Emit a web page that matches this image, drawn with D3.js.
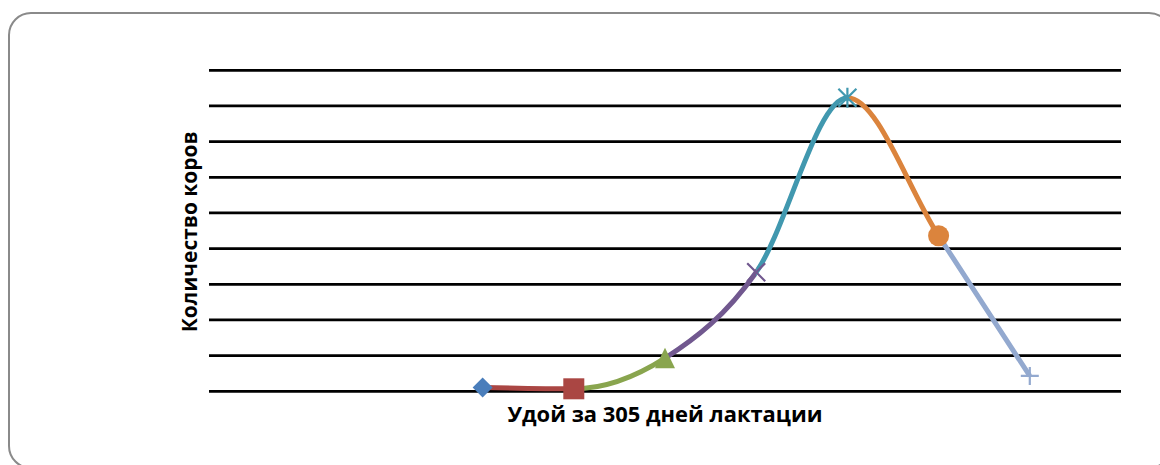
<!DOCTYPE html>
<html>
<head>
<meta charset="utf-8">
<script src="https://cdn.jsdelivr.net/npm/d3@7"></script>
<style>
  html, body { margin: 0; padding: 0; background: #ffffff; }
  svg { display: block; }
</style>
</head>
<body>
<svg id="chart" width="1160" height="465"></svg>
<script>
// Milk yield classes (category slots along the x axis)
const categories = ["1", "2", "3", "4", "5", "6", "7", "8", "9", "10", "11"];
// Each point: category slot and number of cows
const pointCategory = ["4", "5", "6", "7", "8", "9", "10"];
const pointValue = [1.1, 0.7, 9.3, 33.4, 82.3, 43.6, 4.3];
// Value axis gridlines
const gridValues = [0, 10, 20, 30, 40, 50, 60, 70, 80, 90];

const xTitle = "Удой за 305 дней лактации";
const yTitle = "Количество коров";

// Series styling (one colour / marker per point, segment takes the colour of its end point)
const seriesColor = ["#4A7EBB", "#AA4643", "#89A54E", "#71588F", "#4198AF", "#DB843D", "#93A9CF"];
const seriesSymbol = ["diamond", "square", "triangle", "x", "star", "circle", "plus"];

const svg = d3.select("#chart");
const plot = { left: 209, right: 1121, top: 70.3, bottom: 391.3 };

// Outer chart frame with rounded corners
svg.append("rect")
  .attr("x", 9).attr("y", 13)
  .attr("width", 1162).attr("height", 455)
  .attr("rx", 22).attr("ry", 22)
  .attr("fill", "#ffffff")
  .attr("stroke", "#8a8a8a")
  .attr("stroke-width", 2);

const x = d3.scalePoint().domain(categories).range([plot.left, plot.right]);
const y = d3.scaleLinear().domain([0, 90]).range([plot.bottom, plot.top]);

// Horizontal gridlines
svg.append("g").selectAll("line")
  .data(gridValues)
  .join("line")
  .attr("x1", plot.left).attr("x2", plot.right)
  .attr("y1", d => y(d)).attr("y2", d => y(d))
  .attr("stroke", "#000000")
  .attr("stroke-width", 2.8);

const pts = pointCategory.map((c, i) => ({ x: x(c), y: y(pointValue[i]), i }));

// One smooth curve through all points, coloured piecewise with clip strips
const line = d3.line().x(d => d.x).y(d => d.y).curve(d3.curveMonotoneX);
const pathD = line(pts);
const defs = svg.append("defs");
const curveG = svg.append("g");
for (let i = 1; i < pts.length; i++) {
  const id = "seg" + i;
  defs.append("clipPath").attr("id", id)
    .append("rect")
    .attr("x", pts[i - 1].x).attr("y", 0)
    .attr("width", pts[i].x - pts[i - 1].x + (i === pts.length - 1 ? 10 : 0.5))
    .attr("height", 465);
  curveG.append("path")
    .attr("d", pathD)
    .attr("fill", "none")
    .attr("stroke", seriesColor[i])
    .attr("stroke-width", 5)
    .attr("stroke-linecap", "butt")
    .attr("clip-path", `url(#${id})`);
}

// Markers
const markerG = svg.append("g");
pts.forEach((p, i) => {
  const c = seriesColor[i];
  const g = markerG.append("g").attr("transform", `translate(${p.x},${p.y})`);
  switch (seriesSymbol[i]) {
    case "diamond":
      g.append("path").attr("d", "M0,-10L10,0L0,10L-10,0Z").attr("fill", c);
      break;
    case "square":
      g.append("rect").attr("x", -10.5).attr("y", -10.5).attr("width", 21).attr("height", 21).attr("fill", c);
      break;
    case "triangle":
      g.append("path").attr("d", "M0,-10.5L10,10L-10,10Z").attr("fill", c);
      break;
    case "x":
      g.append("path").attr("d", "M-9,-9L9,9M-9,9L9,-9").attr("stroke", c).attr("stroke-width", 2.2);
      break;
    case "star":
      g.append("path").attr("d", "M-9,-9L9,9M-9,9L9,-9M0,-10L0,10").attr("stroke", c).attr("stroke-width", 2.2);
      break;
    case "circle":
      g.append("circle").attr("r", 10.5).attr("fill", c);
      break;
    case "plus":
      g.append("path").attr("d", "M-9,0L9,0M0,-9L0,9").attr("stroke", c).attr("stroke-width", 2.2);
      break;
  }
});

// Axis titles
svg.append("text")
  .attr("x", (plot.left + plot.right) / 2)
  .attr("y", 422)
  .attr("text-anchor", "middle")
  .attr("font-family", "'Open Sans', sans-serif")
  .attr("font-weight", 700)
  .attr("font-size", 21)
  .attr("textLength", 315)
  .attr("lengthAdjust", "spacingAndGlyphs")
  .attr("fill", "#000000")
  .text(xTitle);

svg.append("text")
  .attr("transform", `translate(197,${(plot.top + plot.bottom) / 2 + 1}) rotate(-90)`)
  .attr("text-anchor", "middle")
  .attr("font-family", "'Open Sans', sans-serif")
  .attr("font-weight", 700)
  .attr("font-size", 21)
  .attr("textLength", 201)
  .attr("lengthAdjust", "spacingAndGlyphs")
  .attr("fill", "#000000")
  .text(yTitle);
</script>
</body>
</html>
